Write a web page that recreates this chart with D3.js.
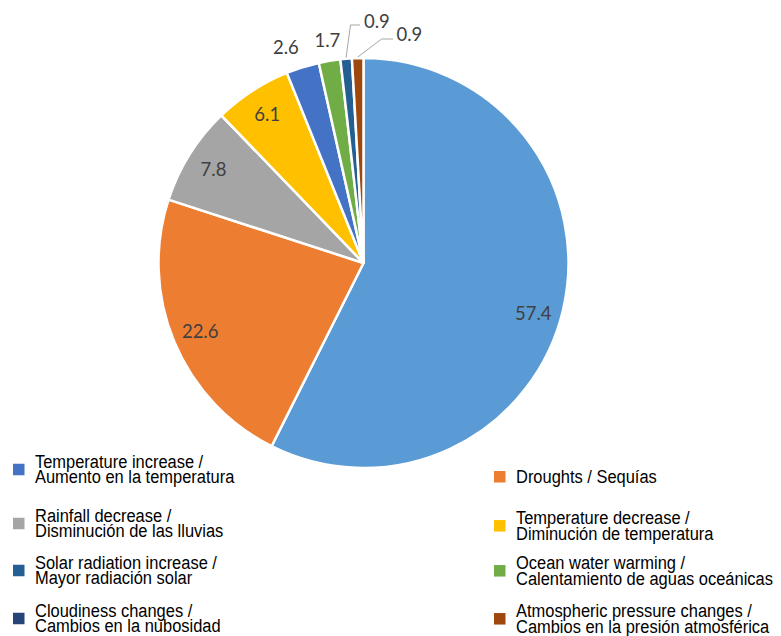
<!DOCTYPE html>
<html>
<head>
<meta charset="utf-8">
<script src="https://cdn.jsdelivr.net/npm/d3@7"></script>
<style>
  html, body { margin: 0; padding: 0; background: #fff; }
  svg { display: block; }
  .val { font-family: Lato, "Open Sans", sans-serif; font-size: 18.5px; fill: #404040; }
  .leg { font-family: "Liberation Sans", Arial, sans-serif; font-size: 18.6px; fill: #000; }
</style>
</head>
<body>
<div id="chart"></div>
<script>
// 数据
const LABELS = [
  ["Temperature increase /", "Aumento en la temperatura"],
  ["Droughts / Sequías"],
  ["Rainfall decrease /", "Disminución de las lluvias"],
  ["Temperature decrease /", "Diminución de temperatura"],
  ["Solar radiation increase /", "Mayor radiación solar"],
  ["Ocean water warming /", "Calentamiento de aguas oceánicas"],
  ["Cloudiness changes /", "Cambios en la nubosidad"],
  ["Atmospheric pressure changes /", "Cambios en la presión atmosférica"],
];
const VALUES = [57.4, 22.6, 7.8, 6.1, 2.6, 1.7, 0.9, 0.9];
const SLICE_COLORS = ["#5B9BD5", "#ED7D31", "#A5A5A5", "#FFC000", "#4472C4", "#70AD47", "#255E91", "#9E480E"];
const LEGEND_COLORS = ["#4472C4", "#ED7D31", "#A5A5A5", "#FFC000", "#255E91", "#70AD47", "#264478", "#9E480E"];

const W = 781, H = 636;
const CX = 363.5, CY = 263, R = 205;

const svg = d3.select("#chart").append("svg").attr("width", W).attr("height", H);

const pie = d3.pie().sort(null).value((d) => d)(VALUES);
const arc = d3.arc().innerRadius(0).outerRadius(R);
const g = svg.append("g").attr("transform", `translate(${CX},${CY})`);

g.selectAll("path.slice").data(pie).join("path")
  .attr("class", "slice")
  .attr("d", arc)
  .attr("fill", (d, i) => SLICE_COLORS[i])
  .attr("stroke", "#fff").attr("stroke-width", 2.5).attr("stroke-linejoin", "round");

const mid = (d) => (d.startAngle + d.endAngle) / 2;
const at = (a, r) => [Math.sin(a) * r, -Math.cos(a) * r];

// 标签：大块放里面，小块放外面，最小两块带引线
pie.forEach((d, i) => {
  const a = mid(d);
  if (d.value >= 5) {
    // 最大块的标签 Excel 放得略低
    const [x, y] = at(a + (i === 0 ? 0.055 : 0), 177);
    g.append("text").attr("class", "val").attr("x", x).attr("y", y)
      .attr("text-anchor", "middle").attr("dy", ".35em").text(d.value.toFixed(1));
  } else if (d.value >= 1.5) {
    const [x, y] = at(a, 218);
    g.append("text").attr("class", "val").attr("x", x).attr("y", y).attr("dy", "-0.05em")
      .attr("text-anchor", Math.abs(Math.sin(a)) > 0.25 ? "end" : "middle").text(d.value.toFixed(1));
  }
});

// 引线
const small = pie.filter((d) => d.value < 1.5);
const leaders = [
  { elbow: [-13, -238], end: [-3.5, -238], txt: [0.5, -241.5] },
  { elbow: [18, -224], end: [29.5, -224], txt: [33, -228] },
];
small.forEach((d, k) => {
  const p0 = at(mid(d), R + 1);
  const L = leaders[k];
  g.append("polyline")
    .attr("points", [p0, L.elbow, L.end].map((p) => p.join(",")).join(" "))
    .attr("fill", "none").attr("stroke", "#A6A6A6").attr("stroke-width", 1);
  g.append("text").attr("class", "val").attr("x", L.txt[0]).attr("y", L.txt[1])
    .attr("dy", ".35em").text(d.value.toFixed(1));
});

// 图例
const COL_X = [13, 494];
const ROW_Y = [[468, 522, 569, 617], [483, 524.3, 569.3, 617.3]];
const LINE_H = 15.5;
const SQUEEZE = 0.885; // 窄体字
LABELS.forEach((lines, i) => {
  const col = i % 2, row = Math.floor(i / 2);
  const x = COL_X[col];
  const y0 = ROW_Y[col][row];
  const n = lines.length;
  const cy = (y0 - 13 + y0 + (n - 1) * LINE_H) / 2;
  const lg = svg.append("g");
  lg.append("rect").attr("x", x).attr("y", cy - 5.5).attr("width", 11.5).attr("height", 11.5)
    .attr("fill", LEGEND_COLORS[i]);
  const t = lg.append("text").attr("class", "leg")
    .attr("transform", `translate(${x + 22},0) scale(${SQUEEZE},1)`);
  lines.forEach((s, j) => {
    t.append("tspan").attr("x", 0).attr("y", y0 + j * LINE_H).text(s);
  });
});
</script>
</body>
</html>
